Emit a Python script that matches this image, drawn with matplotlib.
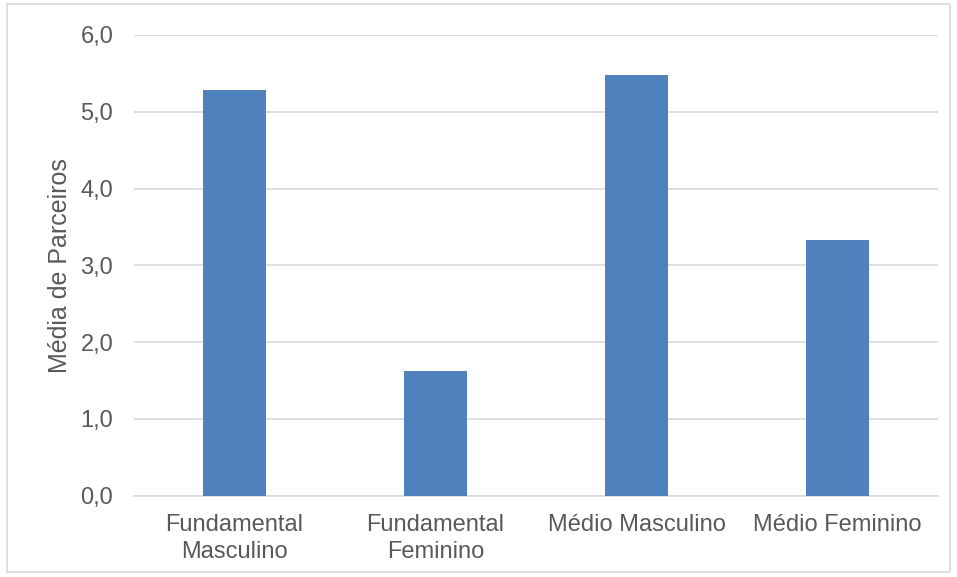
import matplotlib
matplotlib.use("Agg")
import matplotlib.pyplot as plt
from matplotlib.patches import Rectangle

categories = ["Fundamental\nMasculino", "Fundamental\nFeminino", "Médio Masculino", "Médio Feminino"]
values = [5.28, 1.62, 5.48, 3.33]
yticks = [0, 1, 2, 3, 4, 5, 6]
ytick_labels = ["0,0", "1,0", "2,0", "3,0", "4,0", "5,0", "6,0"]

plt.rcParams["font.family"] = ["Liberation Sans", "DejaVu Sans"]
text_color = "#595959"
grid_color = "#d9d9d9"
bar_color = "#4f81bd"

fig = plt.figure(figsize=(9.57, 5.77), dpi=100)
fig.patches.append(Rectangle((7 / 957, 5 / 577), 943 / 957, 568 / 577, transform=fig.transFigure,
                             fill=False, edgecolor=grid_color, linewidth=1.2))

ax = fig.add_axes([134 / 957, 1 - 495.5 / 577, 804 / 957, 460.5 / 577])
x = range(len(categories))
ax.bar(x, values, width=0.313, color=bar_color, zorder=3)
ax.set_xlim(-0.5, len(categories) - 0.5)
ax.set_ylim(0, 6)
ax.set_yticks(yticks)
ax.set_yticklabels(ytick_labels)
ax.set_xticks(list(x))
ax.set_xticklabels(categories, linespacing=1.3)
ax.yaxis.grid(True, color=grid_color, linewidth=1.2, zorder=0)
ax.set_axisbelow(True)
for side in ["top", "right", "left"]:
    ax.spines[side].set_visible(False)
ax.spines["bottom"].set_color(grid_color)
ax.spines["bottom"].set_linewidth(1.2)
ax.tick_params(axis="both", length=0, labelsize=17, labelcolor=text_color)
ax.tick_params(axis="y", pad=15)
ax.tick_params(axis="x", pad=13)
ax.set_ylabel("Média de Parceiros", fontsize=18, color=text_color, labelpad=6)

fig.savefig("out.png", dpi=100)
